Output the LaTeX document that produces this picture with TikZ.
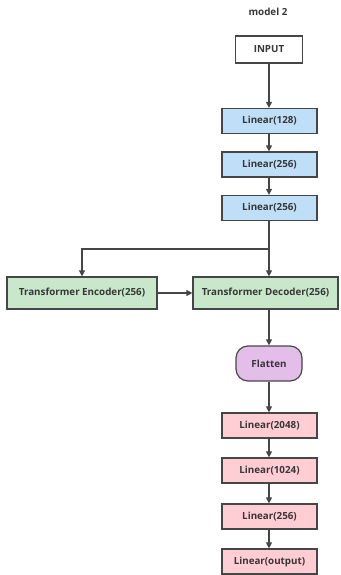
\documentclass[tikz,border=0pt]{standalone}
\usepackage{fontspec}
\setmainfont{Open Sans}
\usetikzlibrary{arrows.meta}
\definecolor{bluef}{RGB}{191,222,248}
\definecolor{greenf}{RGB}{201,231,203}
\definecolor{pinkf}{RGB}{255,205,211}
\definecolor{purplef}{RGB}{226,190,232}
\definecolor{edge}{RGB}{70,70,70}
\definecolor{txt}{RGB}{55,55,55}
\tikzset{
  box/.style={draw=edge, line width=1.2pt, minimum width=95pt, minimum height=25pt, inner sep=0pt,
    font=\fontsize{9.8}{11}\selectfont\bfseries, text=txt},
  conn/.style={draw=edge, line width=1.1pt, -{Triangle[length=6pt,width=6pt]}},
}
\begin{document}
\begin{tikzpicture}[x=1pt,y=-1pt]
\useasboundingbox (0,0) rectangle (340,575);
\node[font=\fontsize{9.8}{11}\selectfont\bfseries, text=txt] (title) at (268,12) {model 2};
\node[box, fill=white, minimum width=67pt, minimum height=27pt] (in) at (269,49.5) {INPUT};
\node[box, fill=bluef] (l1) at (269.5,121) {Linear(128)};
\node[box, fill=bluef] (l2) at (269.5,164.5) {Linear(256)};
\node[box, fill=bluef] (l3) at (269.5,208) {Linear(256)};
\node[box, fill=greenf, minimum width=150pt, minimum height=32pt] (enc) at (82,293) {Transformer Encoder(256)};
\node[box, fill=greenf, minimum width=145pt, minimum height=32pt] (dec) at (265.5,293) {Transformer Decoder(256)};
\node[box, fill=purplef, minimum width=66pt, minimum height=35pt, rounded corners=12pt] (fl) at (269,363.5) {Flatten};
\node[box, fill=pinkf] (p1) at (269.5,425.5) {Linear(2048)};
\node[box, fill=pinkf] (p2) at (269.5,470.5) {Linear(1024)};
\node[box, fill=pinkf] (p3) at (269.5,516.5) {Linear(256)};
\node[box, fill=pinkf] (p4) at (269.5,561.5) {Linear(output)};
\coordinate (split) at (269,249);
\draw[conn] (split |- in.south) -- (split |- l1.north);
\draw[conn] (split |- l1.south) -- (split |- l2.north);
\draw[conn] (split |- l2.south) -- (split |- l3.north);
\draw[conn] (split |- l3.south) -- (split |- dec.north);
\draw[conn] (split) -| (enc.north);
\draw[conn] (enc.east) -- (dec.west);
\draw[conn] (split |- dec.south) -- (split |- fl.north);
\draw[conn] (split |- fl.south) -- (split |- p1.north);
\draw[conn] (split |- p1.south) -- (split |- p2.north);
\draw[conn] (split |- p2.south) -- (split |- p3.north);
\draw[conn] (split |- p3.south) -- (split |- p4.north);
\end{tikzpicture}
\end{document}
